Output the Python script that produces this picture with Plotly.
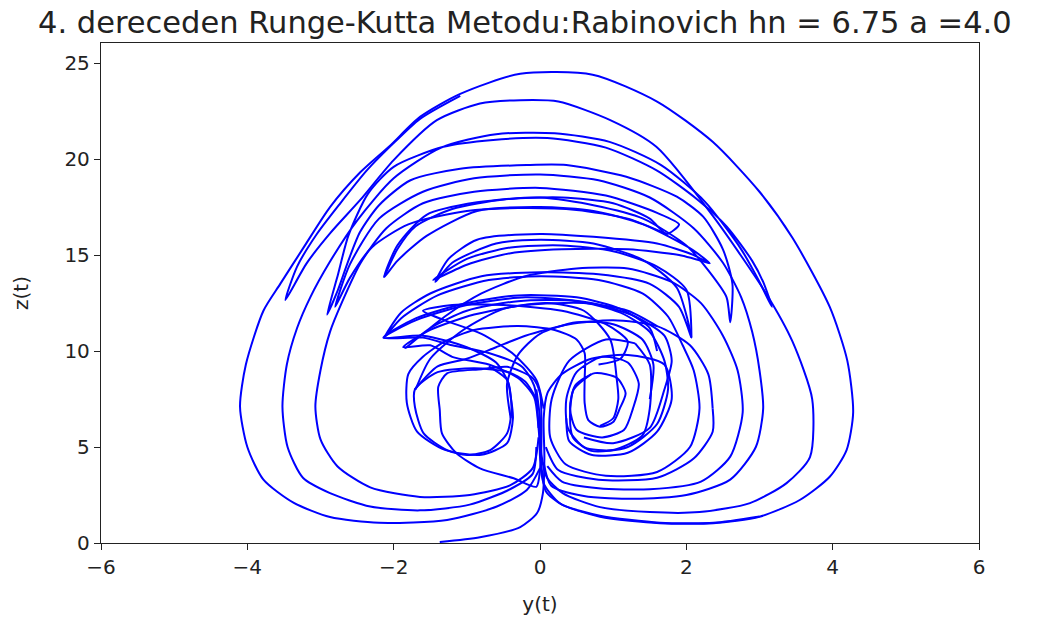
import plotly.graph_objects as go

# Hand-read strands of the trajectory, (y, z) pairs
outer_loop = [(0.0,3.9),(-0.18,2.76),(-0.59,1.9),(-1.27,1.2),(-2.2,1.05),(-2.87,1.35),(-3.37,2.1),(-3.78,3.3),(-4.0,5.0),(-4.1,7.1),(-4.02,9.3),(-3.78,12.1),(-3.55,13.5),(-3.23,15.4),(-2.87,17.5),(-2.46,19.3),(-2.05,20.7),(-1.64,22.2),(-1.09,23.4),(-0.27,24.45),(0.72,24.4),(1.6,23.0),(2.36,20.9),(3.0,18.3),(3.45,15.9),(3.96,12.3),(4.2,9.5),(4.28,6.8),(4.19,4.84),(3.96,3.45),(3.55,2.24),(3.0,1.37),(2.37,1.03),(1.64,1.03),(0.82,1.37),(0.27,2.07),(0.05,3.11),(0.0,4.5),(0.0,6.5)]

cusp_a_loop = [(-1.09,23.3),(-1.64,22.1),(-2.05,20.65),(-2.37,19.4),(-2.73,17.7),(-3.05,16.1),(-3.32,14.4),(-3.48,12.66),(-3.19,14.57),(-2.87,16.13),(-2.46,17.86),(-2.0,19.95),(-1.41,22.03),(-0.82,22.9),(-0.27,23.07),(0.25,23.0),(0.96,22.03),(1.59,20.64),(2.37,17.0),(3.09,13.0),(3.45,10.5),(3.72,7.5),(3.69,4.48),(3.37,3.12),(2.87,2.08),(2.18,1.61),(1.5,1.61),(0.82,1.87),(0.31,2.6),(0.09,3.44),(0.02,4.6),(0.0,6.5),(-0.05,8.0)]

swing_arcs = [(-0.05,5.0),(-0.1,3.6),(-0.41,2.8),(-0.96,2.0),(-1.64,1.7),(-2.32,1.9),(-2.87,2.6),(-3.24,3.4),(-3.45,5.0),(-3.52,7.1),(-3.46,9.3),(-3.32,11.2),(-3.14,12.8),(-2.88,14.6),(-2.5,16.8),(-2.0,19.0),(-1.35,20.6),(-0.6,21.3),(0.2,21.35),(0.95,20.9),(1.65,19.7),(2.25,17.8),(2.75,15.3),(3.0,13.6),(3.17,12.3),(3.05,13.6),(2.9,14.7),(2.55,16.5),(2.15,17.9),(1.6,19.4),(0.9,20.6),(0.1,21.1),(-0.64,21.0),(-1.32,20.64),(-2.0,19.6),(-2.35,18.2),(-2.62,16.0),(-2.76,14.0),(-2.91,11.9),(-2.76,13.2),(-2.62,14.7),(-2.46,16.2),(-2.2,17.6),(-1.77,18.9),(-1.09,19.5),(-0.18,19.69),(0.36,19.69),(1.18,19.08),(1.87,18.04),(2.23,17.0),(2.5,15.3),(2.63,13.5),(2.6,11.5),(2.55,12.8),(2.3,14.2),(2.0,15.5),(1.41,16.9),(0.73,17.6),(0.0,18.0),(-0.86,17.75),(-1.55,17.1),(-1.95,15.5),(-2.13,13.85),(-1.95,14.7),(-1.55,16.0),(-0.86,17.3),(0.0,17.5),(0.73,17.3),(1.41,16.6),(2.09,15.26),(2.32,14.57),(2.1,15.0),(1.6,15.6),(0.73,15.95),(0.0,16.1),(-0.86,15.8),(-1.25,14.8),(-1.43,13.6),(-1.2,14.6),(-0.6,15.6),(0.0,15.8),(0.73,15.6),(1.41,14.74),(1.87,13.3),(2.07,10.7),(1.9,12.3),(1.5,13.5),(0.8,14.0),(0.0,14.1),(-0.8,13.9),(-1.5,13.0),(-1.9,12.0),(-2.13,10.7),(-1.9,11.7),(-1.4,12.9),(-0.7,13.7),(0.0,13.9),(0.8,13.7),(1.4,13.0),(1.75,11.8),(1.95,10.3),(2.1,9.0),(2.18,7.0),(2.05,5.0),(1.6,3.7),(0.9,3.5),(0.35,4.1),(0.14,5.5),(0.16,7.5),(0.4,9.5),(0.9,10.6),(1.3,10.4)]

right_sides = [(0.05,4.2),(0.15,3.0),(0.6,2.45),(1.3,2.3),(2.0,2.5),(2.6,3.3),(2.95,5.0),(3.05,7.0),(3.0,9.0),(2.9,11.0),(2.75,12.8),(2.5,14.6),(2.1,16.4),(1.5,18.0),(0.8,18.9),(0.0,19.2),(-0.9,19.0),(-1.6,18.3),(-2.2,16.9),(-2.6,14.5),(-2.8,12.3),(-2.6,13.8),(-2.3,15.4),(-1.8,16.6),(-1.0,17.3),(-0.3,17.45),(0.5,17.35),(1.2,16.9),(1.73,16.1)]

right_sides_2 = [(0.1,4.0),(0.3,3.2),(0.8,2.85),(1.5,2.8),(2.2,3.2),(2.6,4.5),(2.77,6.8),(2.7,9.0),(2.5,10.8),(2.2,12.5),(1.8,13.6),(1.2,14.3),(0.5,14.3),(-0.2,13.9),(-0.8,13.0),(-1.3,11.8),(-1.84,10.15),(-1.5,11.2),(-1.0,12.1),(-0.3,12.6),(0.5,12.6),(1.1,12.0),(1.5,11.0),(1.7,9.5),(1.75,8.0),(1.6,6.2),(1.2,5.0),(0.7,4.8),(0.45,5.5),(0.41,6.6),(0.46,8.0),(0.7,8.8)]

right_ring = [(2.36,7.0),(2.3,8.8),(2.05,10.3),(1.6,11.3),(1.0,11.6),(0.4,11.4),(-0.2,10.8),(-0.6,10.2),(-1.0,9.6),(-1.4,9.2),(-1.71,8.0)]
right_ring_2 = [(0.08,5.0),(0.25,3.8),(0.8,3.3),(1.6,3.4),(2.1,4.4),(2.36,5.8),(2.36,7.0)]

right_spiral = [(1.3,10.4),(1.5,9.3),(1.5,7.0),(1.4,5.6),(1.0,4.85),(0.6,5.0),(0.38,6.0),(0.36,7.5),(0.5,8.9),(0.85,9.7),(1.2,9.4),(1.35,8.3),(1.27,7.0),(1.15,5.9),(0.85,5.5),(0.5,5.9),(0.41,7.0),(0.48,8.2),(0.75,8.85),(1.05,8.6),(1.17,7.8),(1.09,7.0),(1.0,6.3),(0.82,6.06),(0.66,6.4),(0.61,7.3),(0.61,8.5),(0.61,9.9),(0.5,10.6),(0.2,11.1),(-0.3,11.3),(-0.9,11.1),(-1.3,10.5),(-1.6,9.7),(-1.8,8.8),(-1.82,7.3),(-1.68,5.8),(-1.3,4.85),(-0.8,4.6),(-0.45,5.2),(-0.37,6.5),(-0.4,7.6),(-0.45,8.5),(-0.7,9.2)]

left_spiral = [(-0.05,7.5),(-0.2,8.4),(-0.43,8.9),(-0.9,9.1),(-1.4,8.9),(-1.71,8.0),(-1.71,7.1),(-1.59,5.71),(-1.27,4.84),(-1.0,4.58),(-0.68,4.84),(-0.45,5.71),(-0.39,6.93),(-0.43,8.32),(-0.6,9.4),(-1.0,10.2),(-1.6,10.8),(-2.14,10.7),(-1.7,11.7),(-1.0,12.5),(-0.3,12.9),(0.5,12.8),(1.1,12.2),(1.5,11.2),(1.6,10.0)]

left_spiral_2 = [(-0.45,9.18),(-0.8,9.05),(-1.27,8.84),(-1.39,8.14),(-1.37,6.93),(-1.34,5.71),(-1.14,4.67),(-0.82,3.89),(-0.36,3.37),(-0.05,2.93),(0.0,3.8),(0.02,6.0),(0.0,7.8),(-0.1,8.6),(-0.45,9.18)]

stem_up = [(-1.37,0.05),(-0.82,0.3),(-0.27,0.83),(-0.04,1.56),(0.04,2.6),(0.06,4.5),(0.05,6.5),(0.1,7.8),(0.3,8.8),(0.7,9.6),(1.2,9.8),(1.7,9.3),(1.8,7.5),(1.6,5.8),(1.2,4.7),(0.7,4.6),(0.4,5.3),(0.36,6.5)]

stem_extra = [(3.0,1.38),(2.37,1.05),(1.64,1.06),(0.82,1.42),(0.3,2.0),(0.08,2.7),(0.02,4.0),(-0.02,6.0),(-0.08,7.6),(-0.3,8.6),(-0.7,9.3),(-1.2,9.7),(-1.5,10.3),(-1.87,10.2),(-1.5,11.1),(-0.9,11.9),(-0.2,12.4),(0.6,12.5),(1.2,12.1),(1.6,11.3)]

dome_a = [(-1.7,8.0),(-1.5,9.6),(-1.05,11.1),(-0.5,12.2),(0.1,12.5),(0.6,12.1),(0.96,10.6),(1.05,8.5),(1.07,7.5),(1.0,6.5),(0.82,6.1)]

dome_b = [(-0.4,6.5),(-0.45,8.3),(-0.3,9.8),(0.0,10.9),(0.5,11.5),(1.0,11.4),(1.4,10.6),(1.55,9.3),(1.5,7.5)]

upper_loops = [(0.05,7.0),(-0.05,8.5),(-0.35,9.8),(-0.8,10.9),(-1.3,11.6),(-1.6,12.1),(-1.2,12.4),(-0.5,12.4),(0.3,12.1),(0.9,11.4),(1.2,10.5),(1.1,9.6),(0.8,9.3)]

upper_loops_2 = [(-0.02,6.0),(-0.08,8.2),(-0.25,9.2),(-0.7,9.9),(-1.2,10.3),(-1.6,10.7),(-2.13,10.7),(-1.7,11.6),(-1.0,12.4),(-0.2,12.8),(0.7,12.5),(1.3,11.8),(1.7,10.8),(1.8,9.5),(1.7,8.0),(1.5,6.0),(1.0,5.2),(0.6,5.5)]

left_bottom_3 = [(-0.02,5.5),(-0.1,3.9),(-0.41,3.0),(-0.96,2.5),(-1.64,2.4),(-2.32,2.9),(-2.77,4.0),(-3.0,5.4),(-3.07,7.1),(-3.0,9.0),(-2.87,11.0),(-2.7,12.6),(-2.45,14.6),(-2.1,16.4),(-1.6,17.7),(-0.9,18.3),(0.0,18.5),(0.9,18.1),(1.6,17.2),(1.9,16.6),(1.73,16.1),(1.5,16.9),(1.0,17.7),(0.3,18.0),(-0.5,17.9),(-1.2,17.4),(-1.7,16.5),(-1.95,15.3),(-2.13,13.85)]

upper_sliver = [(2.32,14.57),(1.9,15.0),(1.2,15.3),(0.3,15.3),(-0.4,15.1),(-1.0,14.5),(-1.46,13.7),(-1.0,14.8),(-0.4,15.4),(0.3,15.5),(1.0,15.2),(1.6,14.4),(2.0,13.2),(2.07,10.7)]

strands = [outer_loop, cusp_a_loop, swing_arcs, right_sides, right_sides_2, right_ring_2,
           right_ring, right_spiral, left_spiral, left_spiral_2, stem_up, stem_extra,
           dome_a, dome_b, upper_loops, upper_loops_2, left_bottom_3, upper_sliver]

ys, zs = [], []
for s in strands:
    for y, z in s:
        ys.append(y)
        zs.append(z)
    ys.append(None)
    zs.append(None)

x_ticks = [-6, -4, -2, 0, 2, 4, 6]
x_tick_text = ["\u22126", "\u22124", "\u22122", "0", "2", "4", "6"]
y_ticks = [0, 5, 10, 15, 20, 25]
title_text = "4. dereceden Runge-Kutta Metodu:Rabinovich hn = 6.75 a =4.0"

fnt = "DejaVu Sans, sans-serif"
ink = "#222"

fig = go.Figure()
fig.add_trace(go.Scatter(x=ys, y=zs, mode="lines",
                         line=dict(color="#0000ff", width=2, shape="spline", smoothing=0.7),
                         connectgaps=False, hoverinfo="skip", showlegend=False))

axis_common = dict(showgrid=False, zeroline=False, showline=True, linecolor=ink,
                   linewidth=1.3, mirror=True, ticks="outside", ticklen=6, tickwidth=1.3,
                   tickcolor=ink, tickfont=dict(family=fnt, size=20, color=ink))

fig.update_layout(
    width=1055, height=624,
    margin=dict(l=101, r=76, t=43, b=81),
    paper_bgcolor="white", plot_bgcolor="white",
    xaxis=dict(range=[-6, 6], tickvals=x_ticks, ticktext=x_tick_text,
               title=dict(text="y(t)", font=dict(family=fnt, size=20, color=ink), standoff=18),
               **axis_common),
    yaxis=dict(range=[0, 26.05], tickvals=y_ticks,
               title=dict(text="z(t)", font=dict(family=fnt, size=20, color=ink), standoff=30),
               **axis_common),
    annotations=[dict(text=title_text, x=0.5, y=1.0, xref="paper", yref="paper",
                      xanchor="center", yanchor="bottom", yshift=1, xshift=-15, showarrow=False,
                      font=dict(family=fnt, size=30.5, color=ink))],
)

fig.write_html("out.html")
